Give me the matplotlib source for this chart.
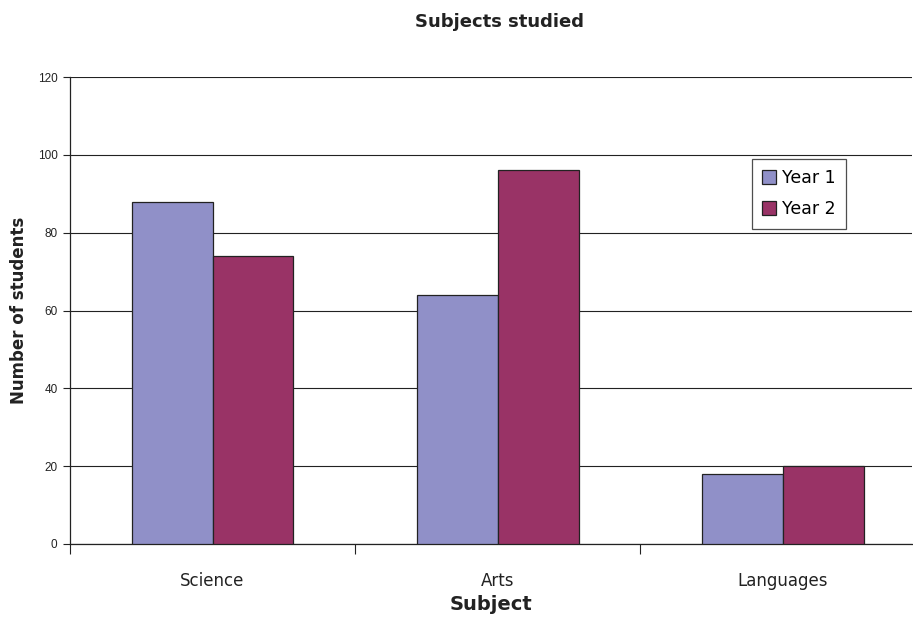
import matplotlib.pyplot as plt
import numpy as np

subjects = ['Science', 'Arts', 'Languages']
year1 = [88, 64, 18]
year2 = [74, 96, 20]
series_names = ['Year 1', 'Year 2']
y_ticks = [0, 20, 40, 60, 80, 100, 120]


def main():
	fig = plt.figure(figsize=(9.13, 6.17), dpi=100)
	ax = fig.add_axes([70 / 913, 1 - 544 / 617, 842 / 913, 467 / 617])

	x = np.arange(len(subjects))
	w = 0.284
	ax.bar(x - w / 2, year1, w, color='#9090c8', edgecolor='#222222', linewidth=0.9,
		label=series_names[0], zorder=3)
	ax.bar(x + w / 2, year2, w, color='#993366', edgecolor='#222222', linewidth=0.9,
		label=series_names[1], zorder=3)

	ax.set_xlim(-0.5, 2.454)
	ax.set_ylim(0, 120)
	ax.set_yticks(y_ticks)
	ax.set_yticklabels([str(v) for v in y_ticks], family='Liberation Sans', fontsize=8.5, color='#222222')
	ax.yaxis.grid(True, color='#222222', linewidth=0.8, zorder=0)

	# category separators as ticks, labels as minor ticks
	ax.set_xticks([-0.5, 0.5, 1.5])
	ax.set_xticklabels([])
	ax.tick_params(axis='x', which='major', length=7, width=0.8, direction='out', color='#222222')
	ax.set_xticks(x, minor=True)
	ax.set_xticklabels(subjects, minor=True, fontsize=12, color='#222222')
	ax.tick_params(axis='x', which='minor', length=0, pad=20)
	ax.tick_params(axis='y', length=5, width=0.8, color='#222222', pad=4)

	for s in ['top', 'right']:
		ax.spines[s].set_visible(False)
	for s in ['left', 'bottom']:
		ax.spines[s].set_color('#222222')
		ax.spines[s].set_linewidth(0.9)

	ax.set_xlabel('Subject', fontsize=14, fontweight='bold', color='#222222', labelpad=4)
	ax.set_ylabel('Number of students', fontsize=12, fontweight='bold', color='#222222', labelpad=7)
	fig.text(499 / 913, 1 - 22 / 617, 'Subjects studied', ha='center', va='center',
		fontsize=13, fontweight='bold', color='#222222')

	leg = ax.legend(loc='upper right', bbox_to_anchor=(0.922, 0.825), fontsize=12.5,
		frameon=True, fancybox=False, edgecolor='#222222', handlelength=0.8,
		handleheight=0.8, handletextpad=0.35, borderpad=0.6, labelspacing=0.75,
		borderaxespad=0)
	leg.get_frame().set_linewidth(0.9)

	fig.savefig('out.png', dpi=100)


if __name__ == '__main__':
	main()
